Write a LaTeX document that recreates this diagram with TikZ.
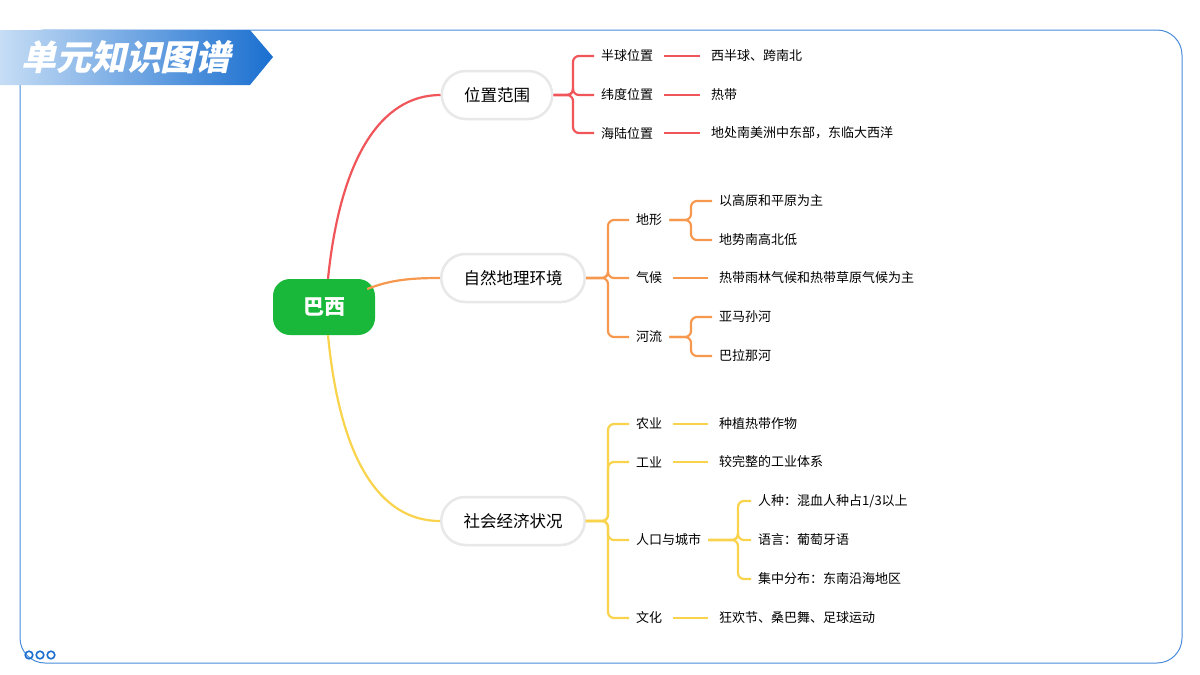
\documentclass[tikz,border=0pt]{standalone}
\usepackage{fontspec}
\setmainfont{Noto Sans CJK SC}
\newfontfamily\titlefont[FakeSlant=0.22]{Noto Sans CJK SC}
\usetikzlibrary{shapes.misc}
\definecolor{cr}{HTML}{F0555A}
\definecolor{co}{HTML}{F7984F}
\definecolor{cy}{HTML}{F8D34B}
\definecolor{cg}{HTML}{19B83B}
\definecolor{cb}{HTML}{1A6FD0}
\definecolor{cbl}{HTML}{C6DDF5}
\begin{document}
\begin{tikzpicture}[x=1pt,y=-1pt,
 branch/.style={draw=black!9,line width=2.5pt,fill=white,rounded rectangle,minimum height=48pt,font=\fontsize{16.5}{18}\selectfont,inner xsep=21pt},
 item/.style={font=\fontsize{13}{15}\selectfont,anchor=west,inner sep=3pt},
 lr/.style={line width=2.2pt,cr,rounded corners=6pt},
 lo/.style={line width=2.2pt,co,rounded corners=6pt},
 ly/.style={line width=2.2pt,cy,rounded corners=6pt},
 sh/.style={shorten <=8pt,shorten >=8pt}]
\useasboundingbox (0,0) rectangle (1200,675);
\fill[white] (0,0) rectangle (1200,675);
\draw[cb!80,line width=1pt,rounded corners=25pt] (20,30) rectangle (1182,663);
% title
\shade[left color=cbl,right color=cb] (0,30) -- (250,30) -- (273,57) -- (250,85) -- (0,85) -- cycle;
\node[text=white,font=\titlefont\bfseries\fontsize{35}{38}\selectfont] (title) at (126,57) {单元知识图谱};
\foreach \i/\x in {1/29,2/40,3/51} \draw[cb,line width=1.6pt] (\x,655) circle (3.8pt) node (d\i) {};
% root
\node[fill=cg,rounded corners=17pt,minimum width=102pt,minimum height=56pt,text=white,font=\bfseries\fontsize{21}{24}\selectfont] (root) at (324,307) {巴西};
\node[branch] (b1) at (497,95) {位置范围};
\node[branch] (b2) at (513,278) {自然地理环境};
\node[branch] (b3) at (513,521) {社会经济状况};
\draw[line width=2.2pt,cr] (root.north) ++(4,0) coordinate (r1) .. controls (340,160) and (380,95) .. (b1.west);
\draw[line width=2.2pt,co] (root.east) ++(-8,-18) coordinate (r2) .. controls (390,280) and (410,278) .. (b2.west);
\draw[line width=2.2pt,cy] (root.south) ++(4,0) coordinate (r3) .. controls (340,460) and (380,521) .. (b3.west);
% red
\node[item] (a1) at (598,56) {半球位置};
\node[item] (a2) at (598,95) {纬度位置};
\node[item] (a3) at (598,133) {海陆位置};
\node[item] (a1l) at (708,56) {西半球、跨南北};
\node[item] (a2l) at (708,95) {热带};
\node[item] (a3l) at (708,133) {地处南美洲中东部，东临大西洋};
\foreach \c in {a1,a2,a3}{\draw[lr] (b1.east) -- (573,95) |- ([xshift=-4pt]\c.west); \draw[lr,sh] (\c.east) -- (\c l.west);}
% orange
\node[item] (o1) at (633,220) {地形};
\node[item] (o2) at (633,278) {气候};
\node[item] (o3) at (633,337) {河流};
\foreach \c in {o1,o2,o3}{\draw[lo] (b2.east) -- (608,278) |- ([xshift=-4pt]\c.west);}
\node[item] (o11) at (716,201) {以高原和平原为主};
\node[item] (o12) at (716,240) {地势南高北低};
\node[item] (o2l) at (716,278) {热带雨林气候和热带草原气候为主};
\node[item] (o31) at (716,317) {亚马孙河};
\node[item] (o32) at (716,356) {巴拉那河};
\foreach \c in {o11,o12}{\draw[lo] ([xshift=4pt]o1.east) -- (691,220) |- ([xshift=-4pt]\c.west);}
\foreach \c in {o31,o32}{\draw[lo] ([xshift=4pt]o3.east) -- (691,337) |- ([xshift=-4pt]\c.west);}
\draw[lo,sh] (o2.east) -- (o2l.west);
% yellow
\node[item] (y1) at (633,424) {农业};
\node[item] (y2) at (633,462) {工业};
\node[item] (y3) at (633,540) {人口与城市};
\node[item] (y4) at (633,618) {文化};
\foreach \c in {y1,y2,y3,y4}{\draw[ly] (b3.east) -- (608,521) |- ([xshift=-4pt]\c.west);}
\node[item] (y1l) at (716,424) {种植热带作物};
\node[item] (y2l) at (716,462) {较完整的工业体系};
\node[item] (y4l) at (716,618) {狂欢节、桑巴舞、足球运动};
\foreach \c in {y1,y2,y4}{\draw[ly,sh] (\c.east) -- (\c l.west);}
\node[item] (y31) at (755,501) {人种：混血人种占1/3以上};
\node[item] (y32) at (755,540) {语言：葡萄牙语};
\node[item] (y33) at (755,579) {集中分布：东南沿海地区};
\foreach \c in {y31,y32,y33}{\draw[ly] ([xshift=4pt]y3.east) -- (738,540) |- ([xshift=-4pt]\c.west);}
\end{tikzpicture}
\end{document}
